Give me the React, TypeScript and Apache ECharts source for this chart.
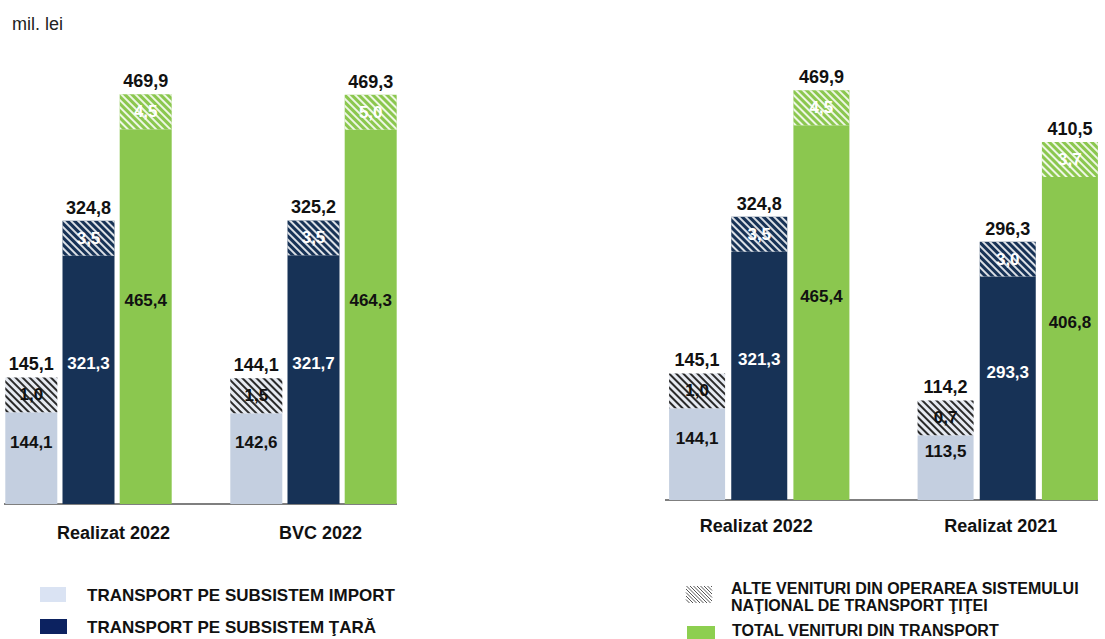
import React, { useEffect, useRef } from "react";
import * as echarts from "echarts";

const unitLabel = "mil. lei";

const leftCategories = ["Realizat 2022", "BVC 2022"];
const rightCategories = ["Realizat 2022", "Realizat 2021"];

// Left panel: Realizat 2022 vs BVC 2022
const leftImportBase = [144.1, 142.6];
const leftImportOther = [1.0, 1.5];
const leftImportTotal = [145.1, 144.1];
const leftTaraBase = [321.3, 321.7];
const leftTaraOther = [3.5, 3.5];
const leftTaraTotal = [324.8, 325.2];
const leftTransportBase = [465.4, 464.3];
const leftTransportOther = [4.5, 5.0];
const leftTransportTotal = [469.9, 469.3];

// Right panel: Realizat 2022 vs Realizat 2021
const rightImportBase = [144.1, 113.5];
const rightImportOther = [1.0, 0.7];
const rightImportTotal = [145.1, 114.2];
const rightTaraBase = [321.3, 293.3];
const rightTaraOther = [3.5, 3.0];
const rightTaraTotal = [324.8, 296.3];
const rightTransportBase = [465.4, 406.8];
const rightTransportOther = [4.5, 3.7];
const rightTransportTotal = [469.9, 410.5];

const legendLabels = [
  "TRANSPORT PE SUBSISTEM IMPORT",
  "TRANSPORT PE SUBSISTEM ŢARĂ",
  "ALTE VENITURI DIN OPERAREA SISTEMULUI\nNAŢIONAL DE TRANSPORT ŢIŢEI",
  "TOTAL VENITURI DIN TRANSPORT",
];

// The source chart draws the small "other revenue" segment with an exaggerated,
// fixed visible height (in axis units) so it can be read; totals stay to scale.
const OTHER_SEGMENT_DISPLAY = 40;

const FONT = "'Liberation Sans', Arial, sans-serif";
const C_IMPORT = "#c4cfe0";
const C_TARA = "#173256";
const C_TOTAL = "#8bc74f";

const fmt = (v: number) => v.toFixed(1).replace(".", ",");

function makeStack(
  idx: number,
  stack: string,
  base: number[],
  other: number[],
  total: number[],
  color: string,
  baseLabelColor: string,
  otherBg: string,
  stripeColor: string,
  otherLabelColor: string,
  barWidth: number,
  barGap: string
) {
  const common = {
    type: "bar",
    xAxisIndex: idx,
    yAxisIndex: idx,
    stack,
    barWidth,
    barGap,
  };
  return [
    {
      ...common,
      name: stack + "-base",
      data: total.map((t) => t - OTHER_SEGMENT_DISPLAY),
      itemStyle: { color },
      label: {
        show: true,
        position: "inside",
        offset: [0, -16],
        color: baseLabelColor,
        fontFamily: FONT,
        fontWeight: "bold",
        fontSize: 17,
        formatter: (p: any) => fmt(base[p.dataIndex]),
      },
    },
    {
      ...common,
      name: stack + "-other",
      data: other.map(() => OTHER_SEGMENT_DISPLAY),
      itemStyle: {
        color: otherBg,
        decal: {
          symbol: "rect",
          symbolSize: 1,
          dashArrayX: [1, 0],
          dashArrayY: [2, 2.5],
          rotation: Math.PI / 4,
          color: stripeColor,
        },
      },
      label: {
        show: true,
        position: "inside",
        color: otherLabelColor,
        fontFamily: FONT,
        fontWeight: "bold",
        fontSize: 17,
        formatter: (p: any) => fmt(other[p.dataIndex]),
      },
    },
    {
      ...common,
      name: stack + "-total",
      data: total.map(() => 0),
      itemStyle: { color: "transparent" },
      label: {
        show: true,
        position: "top",
        distance: 4,
        color: "#111",
        fontFamily: FONT,
        fontWeight: "bold",
        fontSize: 18,
        formatter: (p: any) => fmt(total[p.dataIndex]),
      },
    },
  ];
}

function hatchIcon(x: number, y: number, w: number, h: number) {
  const lines: any[] = [];
  for (let k = -h; k < w; k += 3.5) {
    const x1 = Math.max(x + k, x);
    const y1 = y + (x1 - (x + k));
    const x2 = Math.min(x + k + h, x + w);
    const y2 = y + (x2 - (x + k));
    if (x2 > x1) {
      lines.push({
        type: "line",
        shape: { x1, y1, x2, y2 },
        style: { stroke: "#555", lineWidth: 1 },
      });
    }
  }
  return { type: "group", children: lines };
}

export default function App() {
  const ref = useRef<HTMLDivElement>(null);

  useEffect(() => {
    document.body.style.margin = "0";
    if (!ref.current) return;
    const chart = echarts.init(ref.current, undefined, { renderer: "svg" });

    const axisLabelBase = {
      fontFamily: FONT,
      fontWeight: "bold",
      fontSize: 18,
      color: "#111",
    };

    const option: any = {
      animation: false,
      backgroundColor: "#ffffff",
      grid: [
        { left: -24, width: 450, top: 68, height: 436, outerBoundsMode: "none", containLabel: false },
        { left: 635, width: 497, top: 64, height: 436, outerBoundsMode: "none", containLabel: false },
      ],
      xAxis: [
        {
          type: "category",
          gridIndex: 0,
          data: [
            { value: leftCategories[0], textStyle: { padding: [0, 0, 0, 50] } },
            { value: leftCategories[1], textStyle: { padding: [0, 0, 0, 14] } },
          ],
          axisLine: { show: false },
          axisTick: { show: false },
          axisLabel: { ...axisLabelBase, margin: 20 },
        },
        {
          type: "category",
          gridIndex: 1,
          data: [
            { value: rightCategories[0], textStyle: { padding: [0, 6, 0, 0] } },
            { value: rightCategories[1], textStyle: { padding: [0, 14, 0, 0] } },
          ],
          axisLine: { show: false },
          axisTick: { show: false },
          axisLabel: { ...axisLabelBase, margin: 17 },
        },
      ],
      yAxis: [
        { type: "value", gridIndex: 0, min: 0, max: 500, show: false, splitLine: { show: false } },
        { type: "value", gridIndex: 1, min: 0, max: 500, show: false, splitLine: { show: false } },
      ],
      series: [
        ...makeStack(0, "L-import", leftImportBase, leftImportOther, leftImportTotal, C_IMPORT, "#111", "#e6eaf1", "#2a2a2a", "#111", 52, "10%"),
        ...makeStack(0, "L-tara", leftTaraBase, leftTaraOther, leftTaraTotal, C_TARA, "#fff", C_TARA, "rgba(255,255,255,0.85)", "#fff", 52, "10%"),
        ...makeStack(0, "L-total", leftTransportBase, leftTransportOther, leftTransportTotal, C_TOTAL, "#111", C_TOTAL, "rgba(255,255,255,0.85)", "#fff", 52, "10%"),
        ...makeStack(1, "R-import", rightImportBase, rightImportOther, rightImportTotal, C_IMPORT, "#111", "#e6eaf1", "#2a2a2a", "#111", 56, "11%"),
        ...makeStack(1, "R-tara", rightTaraBase, rightTaraOther, rightTaraTotal, C_TARA, "#fff", C_TARA, "rgba(255,255,255,0.85)", "#fff", 56, "11%"),
        ...makeStack(1, "R-total", rightTransportBase, rightTransportOther, rightTransportTotal, C_TOTAL, "#111", C_TOTAL, "rgba(255,255,255,0.85)", "#fff", 56, "11%"),
      ],
      graphic: [
        {
          type: "text",
          left: 12,
          top: 15,
          style: { text: unitLabel, font: `18px ${FONT}`, fill: "#222" },
        },
        {
          type: "line",
          shape: { x1: 4, y1: 504, x2: 397, y2: 504 },
          style: { stroke: "#555", lineWidth: 1.5 },
        },
        {
          type: "line",
          shape: { x1: 665, y1: 500, x2: 1098, y2: 500 },
          style: { stroke: "#555", lineWidth: 1.5 },
        },
        { type: "rect", shape: { x: 40, y: 587, width: 26, height: 15 }, style: { fill: "#dae3f3" } },
        {
          type: "text",
          x: 87,
          y: 595,
          style: { text: legendLabels[0], font: `bold 17px ${FONT}`, fill: "#111", verticalAlign: "middle" },
        },
        { type: "rect", shape: { x: 40, y: 619, width: 27, height: 15 }, style: { fill: "#0c2260" } },
        {
          type: "text",
          x: 87,
          y: 627,
          style: { text: legendLabels[1], font: `bold 17px ${FONT}`, fill: "#111", verticalAlign: "middle" },
        },
        hatchIcon(686, 586, 26, 17),
        {
          type: "text",
          x: 731,
          y: 597,
          style: {
            text: legendLabels[2],
            font: `bold 16px ${FONT}`,
            fill: "#111",
            verticalAlign: "middle",
            lineHeight: 17,
          },
        },
        { type: "rect", shape: { x: 687, y: 626, width: 28, height: 13 }, style: { fill: "#8dcf50" } },
        {
          type: "text",
          x: 732,
          y: 630,
          style: { text: legendLabels[3], font: `bold 16px ${FONT}`, fill: "#111", verticalAlign: "middle" },
        },
      ],
    };

    chart.setOption(option);
    return () => chart.dispose();
  }, []);

  return <div ref={ref} style={{ width: 1105, height: 639 }} />;
}
